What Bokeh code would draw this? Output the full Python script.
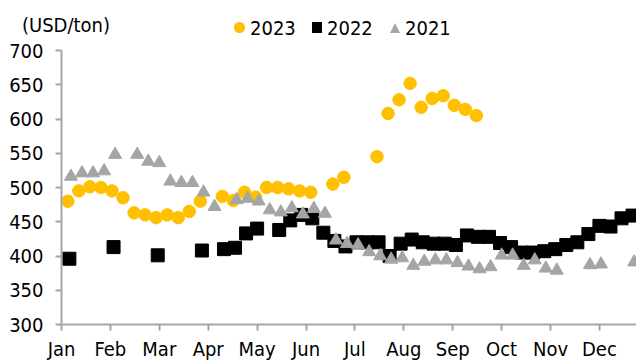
from bokeh.plotting import figure
from bokeh.layouts import column
from bokeh.models import Range1d, FixedTicker, Div
from bokeh.embed import file_html
from bokeh.resources import INLINE

nan = float("nan")

# Month tick labels along a day-of-year axis (ticks every 31 days)
months = ["Jan", "Feb", "Mar", "Apr", "May", "Jun",
          "Jul", "Aug", "Sep", "Oct", "Nov", "Dec"]
month_ticks = [31 * i for i in range(12)]

y_ticks = [300, 350, 400, 450, 500, 550, 600, 650, 700]

# Weekly prices (USD/ton); nan marks weeks without a quote
start_2023 = 4
price_2023 = [480, 495, 501, 500, 495, 485, 463, 460, 456, 460,
              456, 465, 480, nan, 487, 481, 493, 486, 500, 500,
              498, 495, 493, nan, 505, 515, nan, nan, 545, 608,
              628, 652, 617, 630, 634, 620, 614, 605]

start_2022 = 5
price_2022 = [396, nan, nan, nan, 413, nan, nan, nan, 401, nan,
              nan, nan, 408, nan, 410, 412, 433, 440, nan, 438,
              452, 460, 455, 434, 422, 414, 420, 420, 420, 400,
              418, 424, 420, 418, 418, 416, 430, 428, 428, 419,
              413, 405, 405, 407, 410, 416, 420, 432, 444, 443,
              455, 459]

start_2021 = 6
price_2021 = [516, 521, 521, 524, 548, nan, 548, 538, 536, 509,
              507, 507, 493, 472, nan, 482, 484, 480, 467, 464,
              470, 461, 469, 462, 423, 418, 416, 406, 400, 395,
              397, 386, 392, 394, 394, 390, 385, 381, 384, 401,
              401, 386, 394, 382, 379, nan, nan, 387, 388, nan,
              nan, 391]

series_labels = ["2023", "2022", "2021"]
series_colors = ["#FFC000", "#000000", "#A5A5A5"]


def weekly_days(start, values):
    return [start + 7 * k for k in range(len(values))]


FONT = "DejaVu Sans Condensed, DejaVu Sans, sans-serif"
AXIS_GREY = "#A6A6A6"

# ---- main scatter chart -------------------------------------------------
p = figure(width=636, height=323, output_backend="svg", toolbar_location=None,
           x_range=Range1d(0, 364.5), y_range=Range1d(300, 700),
           min_border_left=61, min_border_right=0,
           min_border_top=10, min_border_bottom=36)
p.outline_line_color = None
p.xgrid.visible = False
p.ygrid.visible = False
p.background_fill_color = "white"
p.border_fill_color = "white"

p.scatter(weekly_days(start_2023, price_2023), price_2023, marker="circle",
          size=12.5, fill_color=series_colors[0], line_color=series_colors[0])
p.scatter(weekly_days(start_2022, price_2022), price_2022, marker="square",
          size=13, fill_color=series_colors[1], line_color=series_colors[1])
p.scatter(weekly_days(start_2021, price_2021), price_2021, marker="triangle",
          size=13, fill_color=series_colors[2], line_color=series_colors[2])

for ax in (p.xaxis[0], p.yaxis[0]):
    ax.axis_line_color = AXIS_GREY
    ax.axis_line_width = 2
    ax.major_tick_line_color = AXIS_GREY
    ax.major_tick_line_width = 2
    ax.major_tick_out = 6
    ax.major_tick_in = 0
    ax.minor_tick_line_color = None
    ax.major_label_text_font = FONT
    ax.major_label_text_font_size = "20px"
    ax.major_label_text_color = "#000000"

p.xaxis.ticker = FixedTicker(ticks=month_ticks)
p.xaxis.major_label_overrides = {t: m for t, m in zip(month_ticks, months)}
p.xaxis.major_label_standoff = 6

p.yaxis.ticker = FixedTicker(ticks=y_ticks)
p.yaxis.major_label_standoff = 12

# ---- header strip: unit caption and series key --------------------------
font_css = "font-family:'DejaVu Sans Condensed','DejaVu Sans',sans-serif;"
text_css = "position:absolute;font-size:20px;line-height:20px;color:#000;white-space:nowrap;"
key_shapes = [
    "left:234px;top:22px;width:10.5px;height:10.5px;border-radius:50%;background:{c};",
    "left:312px;top:22px;width:10px;height:10.5px;background:{c};",
    "left:389.5px;top:22.5px;width:0;height:0;border-left:5px solid transparent;"
    "border-right:5px solid transparent;border-bottom:10px solid {c};",
]
key_text_left = [250, 327, 405]

parts = ['<div style="position:relative;width:636px;height:40px;%s">' % font_css,
         '<span style="%sleft:22px;top:15px;">(USD/ton)</span>' % text_css]
for shape, color, label, tx in zip(key_shapes, series_colors, series_labels, key_text_left):
    parts.append('<span style="position:absolute;%s"></span>' % shape.format(c=color))
    parts.append('<span style="%sleft:%dpx;top:18px;">%s</span>' % (text_css, tx, label))
parts.append("</div>")

header = Div(text="".join(parts), width=636, height=40, margin=0,
             styles={"padding": "0", "margin": "0"})

page = column(header, p, spacing=0)
open("out.html", "w").write(file_html(page, INLINE))
